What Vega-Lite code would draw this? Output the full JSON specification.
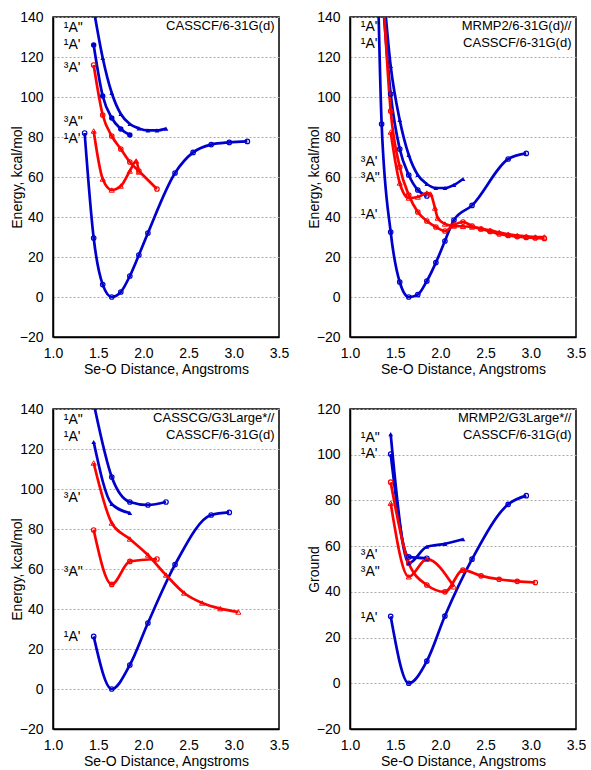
{
  "$schema": "https://vega.github.io/schema/vega-lite/v6.json",
  "background": "white",
  "padding": {"left": 9, "top": 9, "right": 5, "bottom": 5},
  "columns": 2,
  "spacing": {"row": 72, "column": 71},
  "bounds": "flush",
  "datasets": {
    "p1": [
      {"state": "S2", "x": 1.45, "y": 144}, {"state": "S2", "x": 1.55, "y": 119.5}, {"state": "S2", "x": 1.65, "y": 102}, {"state": "S2", "x": 1.75, "y": 91.5}, {"state": "S2", "x": 1.85, "y": 86.5}, {"state": "S2", "x": 1.95, "y": 84.3}, {"state": "S2", "x": 2.05, "y": 83.3}, {"state": "S2", "x": 2.15, "y": 83.3}, {"state": "S2", "x": 2.25, "y": 84.2},
      {"state": "S1", "x": 1.45, "y": 126}, {"state": "S1", "x": 1.55, "y": 100.5}, {"state": "S1", "x": 1.65, "y": 89.5}, {"state": "S1", "x": 1.75, "y": 84}, {"state": "S1", "x": 1.85, "y": 81},
      {"state": "S0", "x": 1.35, "y": 82}, {"state": "S0", "x": 1.45, "y": 29.5}, {"state": "S0", "x": 1.55, "y": 6.2}, {"state": "S0", "x": 1.65, "y": 0}, {"state": "S0", "x": 1.75, "y": 2.5}, {"state": "S0", "x": 1.85, "y": 10.5}, {"state": "S0", "x": 1.95, "y": 21}, {"state": "S0", "x": 2.05, "y": 32}, {"state": "S0", "x": 2.35, "y": 62}, {"state": "S0", "x": 2.55, "y": 72.3}, {"state": "S0", "x": 2.75, "y": 76.2}, {"state": "S0", "x": 2.95, "y": 77.3}, {"state": "S0", "x": 3.15, "y": 77.8},
      {"state": "T1", "x": 1.45, "y": 116}, {"state": "T1", "x": 1.55, "y": 91}, {"state": "T1", "x": 1.65, "y": 80.5}, {"state": "T1", "x": 1.75, "y": 74}, {"state": "T1", "x": 1.85, "y": 67.5}, {"state": "T1", "x": 1.95, "y": 63}, {"state": "T1", "x": 2.15, "y": 54},
      {"state": "T2", "x": 1.45, "y": 83}, {"state": "T2", "x": 1.55, "y": 59}, {"state": "T2", "x": 1.65, "y": 53.5}, {"state": "T2", "x": 1.75, "y": 55.5}, {"state": "T2", "x": 1.85, "y": 63}, {"state": "T2", "x": 1.92, "y": 68}, {"state": "T2", "x": 1.95, "y": 62.5}
    ],
    "p2": [
      {"state": "S0", "x": 1.3, "y": 175}, {"state": "S0", "x": 1.35, "y": 86.5}, {"state": "S0", "x": 1.45, "y": 32.5}, {"state": "S0", "x": 1.55, "y": 7.5}, {"state": "S0", "x": 1.65, "y": 0}, {"state": "S0", "x": 1.75, "y": 1.2}, {"state": "S0", "x": 1.85, "y": 8}, {"state": "S0", "x": 1.95, "y": 17.2}, {"state": "S0", "x": 2.05, "y": 28}, {"state": "S0", "x": 2.15, "y": 38.5}, {"state": "S0", "x": 2.35, "y": 45.8}, {"state": "S0", "x": 2.75, "y": 69}, {"state": "S0", "x": 2.95, "y": 71.8},
      {"state": "S1", "x": 1.35, "y": 156}, {"state": "S1", "x": 1.45, "y": 101.5}, {"state": "S1", "x": 1.55, "y": 74}, {"state": "S1", "x": 1.65, "y": 61}, {"state": "S1", "x": 1.75, "y": 53.5}, {"state": "S1", "x": 1.85, "y": 50.5},
      {"state": "S2", "x": 1.35, "y": 165}, {"state": "S2", "x": 1.45, "y": 115.5}, {"state": "S2", "x": 1.55, "y": 88.5}, {"state": "S2", "x": 1.65, "y": 71}, {"state": "S2", "x": 1.75, "y": 61}, {"state": "S2", "x": 1.85, "y": 56.5}, {"state": "S2", "x": 1.95, "y": 54.5}, {"state": "S2", "x": 2.05, "y": 54.5}, {"state": "S2", "x": 2.15, "y": 56}, {"state": "S2", "x": 2.25, "y": 59},
      {"state": "T1", "x": 1.35, "y": 165}, {"state": "T1", "x": 1.45, "y": 93}, {"state": "T1", "x": 1.55, "y": 65}, {"state": "T1", "x": 1.65, "y": 51}, {"state": "T1", "x": 1.75, "y": 42.5}, {"state": "T1", "x": 1.85, "y": 38}, {"state": "T1", "x": 1.95, "y": 35}, {"state": "T1", "x": 2.05, "y": 33}, {"state": "T1", "x": 2.15, "y": 36}, {"state": "T1", "x": 2.25, "y": 37.5}, {"state": "T1", "x": 2.35, "y": 35.5}, {"state": "T1", "x": 2.45, "y": 34}, {"state": "T1", "x": 2.55, "y": 32.8}, {"state": "T1", "x": 2.65, "y": 31.5}, {"state": "T1", "x": 2.75, "y": 30.8}, {"state": "T1", "x": 2.85, "y": 30.2}, {"state": "T1", "x": 2.95, "y": 29.8}, {"state": "T1", "x": 3.05, "y": 29.5}, {"state": "T1", "x": 3.15, "y": 29.3},
      {"state": "T2", "x": 1.45, "y": 82.5}, {"state": "T2", "x": 1.55, "y": 57}, {"state": "T2", "x": 1.65, "y": 49.5}, {"state": "T2", "x": 1.75, "y": 50}, {"state": "T2", "x": 1.85, "y": 52}, {"state": "T2", "x": 1.89, "y": 51.5}, {"state": "T2", "x": 1.94, "y": 44.5}, {"state": "T2", "x": 1.97, "y": 39.5}, {"state": "T2", "x": 2.05, "y": 36.5}, {"state": "T2", "x": 2.15, "y": 35.5}, {"state": "T2", "x": 2.25, "y": 35.3}, {"state": "T2", "x": 2.35, "y": 35}, {"state": "T2", "x": 2.45, "y": 34.2}, {"state": "T2", "x": 2.55, "y": 33.3}, {"state": "T2", "x": 2.65, "y": 32.3}, {"state": "T2", "x": 2.75, "y": 31.3}, {"state": "T2", "x": 2.85, "y": 30.7}, {"state": "T2", "x": 2.95, "y": 30.3}, {"state": "T2", "x": 3.05, "y": 30}, {"state": "T2", "x": 3.15, "y": 30}
    ],
    "p3": [
      {"state": "S2", "x": 1.45, "y": 143}, {"state": "S2", "x": 1.65, "y": 106}, {"state": "S2", "x": 1.85, "y": 93.5}, {"state": "S2", "x": 2.05, "y": 92}, {"state": "S2", "x": 2.25, "y": 93.5},
      {"state": "S1", "x": 1.45, "y": 123.5}, {"state": "S1", "x": 1.65, "y": 92.5}, {"state": "S1", "x": 1.85, "y": 88},
      {"state": "S0", "x": 1.45, "y": 26.3}, {"state": "S0", "x": 1.65, "y": 0}, {"state": "S0", "x": 1.85, "y": 12}, {"state": "S0", "x": 2.05, "y": 33}, {"state": "S0", "x": 2.35, "y": 62.2}, {"state": "S0", "x": 2.75, "y": 87}, {"state": "S0", "x": 2.95, "y": 88.3},
      {"state": "T1", "x": 1.45, "y": 113}, {"state": "T1", "x": 1.65, "y": 83}, {"state": "T1", "x": 1.85, "y": 75}, {"state": "T1", "x": 2.05, "y": 67}, {"state": "T1", "x": 2.25, "y": 57}, {"state": "T1", "x": 2.45, "y": 48}, {"state": "T1", "x": 2.65, "y": 43}, {"state": "T1", "x": 2.85, "y": 40.2}, {"state": "T1", "x": 3.05, "y": 38.5},
      {"state": "T2", "x": 1.45, "y": 79.5}, {"state": "T2", "x": 1.65, "y": 52.3}, {"state": "T2", "x": 1.85, "y": 63.8}, {"state": "T2", "x": 2.15, "y": 65}
    ],
    "p4": [
      {"state": "S2", "x": 1.45, "y": 109}, {"state": "S2", "x": 1.65, "y": 52.5}, {"state": "S2", "x": 1.85, "y": 59.7}, {"state": "S2", "x": 2.05, "y": 61}, {"state": "S2", "x": 2.25, "y": 63},
      {"state": "S1", "x": 1.45, "y": 100.3}, {"state": "S1", "x": 1.65, "y": 55.3}, {"state": "S1", "x": 1.85, "y": 54.7},
      {"state": "S0", "x": 1.45, "y": 29.3}, {"state": "S0", "x": 1.65, "y": 0}, {"state": "S0", "x": 1.85, "y": 9.7}, {"state": "S0", "x": 2.05, "y": 29.4}, {"state": "S0", "x": 2.35, "y": 54.3}, {"state": "S0", "x": 2.75, "y": 78.3}, {"state": "S0", "x": 2.95, "y": 82.1},
      {"state": "T1", "x": 1.45, "y": 88}, {"state": "T1", "x": 1.65, "y": 52.5}, {"state": "T1", "x": 1.85, "y": 43}, {"state": "T1", "x": 2.05, "y": 40}, {"state": "T1", "x": 2.25, "y": 49.5}, {"state": "T1", "x": 2.45, "y": 47}, {"state": "T1", "x": 2.65, "y": 45.5}, {"state": "T1", "x": 2.85, "y": 44.6}, {"state": "T1", "x": 3.05, "y": 44.1},
      {"state": "T2", "x": 1.45, "y": 78.8}, {"state": "T2", "x": 1.65, "y": 46.6}, {"state": "T2", "x": 1.85, "y": 54.3}, {"state": "T2", "x": 2.15, "y": 42.2}
    ],
    "l1": [
      {"label": "¹A\"", "x": 1.12, "y": 134.5}, {"label": "¹A'", "x": 1.12, "y": 126}, {"label": "³A'", "x": 1.12, "y": 114.7}, {"label": "³A\"", "x": 1.12, "y": 87.5}, {"label": "¹A'", "x": 1.12, "y": 79}
    ],
    "l2": [
      {"label": "¹A\"", "x": 1.12, "y": 135}, {"label": "¹A'", "x": 1.12, "y": 126.5}, {"label": "³A'", "x": 1.12, "y": 67.5}, {"label": "³A\"", "x": 1.12, "y": 59.5}, {"label": "¹A'", "x": 1.12, "y": 41}
    ],
    "l3": [
      {"label": "¹A\"", "x": 1.12, "y": 134.6}, {"label": "¹A'", "x": 1.12, "y": 126}, {"label": "³A'", "x": 1.12, "y": 95.4}, {"label": "³A\"", "x": 1.12, "y": 58.6}, {"label": "¹A'", "x": 1.12, "y": 26}
    ],
    "l4": [
      {"label": "¹A\"", "x": 1.12, "y": 107.3}, {"label": "¹A'", "x": 1.12, "y": 100.2}, {"label": "³A'", "x": 1.12, "y": 56}, {"label": "³A\"", "x": 1.12, "y": 48.8}, {"label": "¹A'", "x": 1.12, "y": 28.6}
    ],
    "t1": [{"label": "CASSCF/6-31G(d)", "x": 3.45, "y": 140}],
    "t2": [{"label": "MRMP2/6-31G(d)//\nCASSCF/6-31G(d)", "x": 3.45, "y": 140}],
    "t3": [{"label": "CASSCG/G3Large*//\nCASSCF/6-31G(d)", "x": 3.45, "y": 140}],
    "t4": [{"label": "MRMP2/G3Large*//\nCASSCF/6-31G(d)", "x": 3.45, "y": 120}]
  },
  "concat": [
    {
      "width": 226, "height": 320,
      "data": {"name": "p1"},
      "encoding": {
        "x": {"field": "x", "type": "quantitative", "scale": {"domain": [1, 3.5], "nice": false, "zero": false}, "axis": {"values": [1, 1.5, 2, 2.5, 3, 3.5], "format": ".1f", "title": "Se-O Distance, Angstroms"}},
        "y": {"field": "y", "type": "quantitative", "scale": {"domain": [-20, 140], "nice": false}, "axis": {"values": [-20, 0, 20, 40, 60, 80, 100, 120, 140], "title": "Energy, kcal/mol"}}
      },
      "layer": [
        {"mark": {"type": "line", "interpolate": "monotone", "clip": true, "strokeWidth": 2.7}, "encoding": {"color": {"field": "state", "type": "nominal", "scale": {"domain": ["S0", "S1", "S2", "T1", "T2"], "range": ["#0000CC", "#0000CC", "#0000CC", "#FF0000", "#FF0000"]}, "legend": null}, "detail": {"field": "state"}}},
        {"transform": [{"filter": {"field": "state", "oneOf": ["S0", "T1"]}}], "mark": {"type": "point", "shape": "circle", "filled": false, "size": 20, "strokeWidth": 1.2, "clip": true, "opacity": 1}, "encoding": {"color": {"field": "state", "type": "nominal", "legend": null}}},
        {"transform": [{"filter": {"field": "state", "oneOf": ["S1"]}}], "mark": {"type": "point", "shape": "circle", "filled": true, "size": 30, "clip": true, "opacity": 1}, "encoding": {"color": {"field": "state", "type": "nominal", "legend": null}}},
        {"transform": [{"filter": {"field": "state", "oneOf": ["S2"]}}], "mark": {"type": "point", "shape": "triangle-up", "filled": true, "size": 22, "clip": true, "opacity": 1}, "encoding": {"color": {"field": "state", "type": "nominal", "legend": null}}},
        {"transform": [{"filter": {"field": "state", "oneOf": ["T2"]}}], "mark": {"type": "point", "shape": "triangle-up", "filled": false, "size": 26, "strokeWidth": 1, "clip": true, "opacity": 1}, "encoding": {"color": {"field": "state", "type": "nominal", "legend": null}}},
        {"data": {"name": "l1"}, "mark": {"type": "text", "align": "left", "baseline": "middle", "fontSize": 14}, "encoding": {"text": {"field": "label"}}},
        {"data": {"name": "t1"}, "mark": {"type": "text", "align": "right", "baseline": "top", "fontSize": 13, "lineHeight": 17, "lineBreak": "\n", "dy": 3}, "encoding": {"text": {"field": "label"}}}
      ]
    },
    {
      "width": 226, "height": 320,
      "data": {"name": "p2"},
      "encoding": {
        "x": {"field": "x", "type": "quantitative", "scale": {"domain": [1, 3.5], "nice": false, "zero": false}, "axis": {"values": [1, 1.5, 2, 2.5, 3, 3.5], "format": ".1f", "title": "Se-O Distance, Angstroms"}},
        "y": {"field": "y", "type": "quantitative", "scale": {"domain": [-20, 140], "nice": false}, "axis": {"values": [-20, 0, 20, 40, 60, 80, 100, 120, 140], "title": "Energy, kcal/mol"}}
      },
      "layer": [
        {"mark": {"type": "line", "interpolate": "monotone", "clip": true, "strokeWidth": 2.7}, "encoding": {"color": {"field": "state", "type": "nominal", "scale": {"domain": ["S0", "S1", "S2", "T1", "T2"], "range": ["#0000CC", "#0000CC", "#0000CC", "#FF0000", "#FF0000"]}, "legend": null}, "detail": {"field": "state"}}},
        {"transform": [{"filter": {"field": "state", "oneOf": ["S0", "S1", "T1"]}}], "mark": {"type": "point", "shape": "circle", "filled": false, "size": 20, "strokeWidth": 1.2, "clip": true, "opacity": 1}, "encoding": {"color": {"field": "state", "type": "nominal", "legend": null}}},
        {"transform": [{"filter": {"field": "state", "oneOf": ["S2"]}}], "mark": {"type": "point", "shape": "triangle-up", "filled": true, "size": 22, "clip": true, "opacity": 1}, "encoding": {"color": {"field": "state", "type": "nominal", "legend": null}}},
        {"transform": [{"filter": {"field": "state", "oneOf": ["T2"]}}], "mark": {"type": "point", "shape": "triangle-up", "filled": false, "size": 26, "strokeWidth": 1, "clip": true, "opacity": 1}, "encoding": {"color": {"field": "state", "type": "nominal", "legend": null}}},
        {"data": {"name": "l2"}, "mark": {"type": "text", "align": "left", "baseline": "middle", "fontSize": 14}, "encoding": {"text": {"field": "label"}}},
        {"data": {"name": "t2"}, "mark": {"type": "text", "align": "right", "baseline": "top", "fontSize": 13, "lineHeight": 17, "lineBreak": "\n", "dy": 3}, "encoding": {"text": {"field": "label"}}}
      ]
    },
    {
      "width": 226, "height": 320,
      "data": {"name": "p3"},
      "encoding": {
        "x": {"field": "x", "type": "quantitative", "scale": {"domain": [1, 3.5], "nice": false, "zero": false}, "axis": {"values": [1, 1.5, 2, 2.5, 3, 3.5], "format": ".1f", "title": "Se-O Distance, Angstroms"}},
        "y": {"field": "y", "type": "quantitative", "scale": {"domain": [-20, 140], "nice": false}, "axis": {"values": [-20, 0, 20, 40, 60, 80, 100, 120, 140], "title": "Energy, kcal/mol"}}
      },
      "layer": [
        {"mark": {"type": "line", "interpolate": "monotone", "clip": true, "strokeWidth": 2.7}, "encoding": {"color": {"field": "state", "type": "nominal", "scale": {"domain": ["S0", "S1", "S2", "T1", "T2"], "range": ["#0000CC", "#0000CC", "#0000CC", "#FF0000", "#FF0000"]}, "legend": null}, "detail": {"field": "state"}}},
        {"transform": [{"filter": {"field": "state", "oneOf": ["S0", "S2", "T2"]}}], "mark": {"type": "point", "shape": "circle", "filled": false, "size": 20, "strokeWidth": 1.2, "clip": true, "opacity": 1}, "encoding": {"color": {"field": "state", "type": "nominal", "legend": null}}},
        {"transform": [{"filter": {"field": "state", "oneOf": ["S1"]}}], "mark": {"type": "point", "shape": "triangle-up", "filled": true, "size": 22, "clip": true, "opacity": 1}, "encoding": {"color": {"field": "state", "type": "nominal", "legend": null}}},
        {"transform": [{"filter": {"field": "state", "oneOf": ["T1"]}}], "mark": {"type": "point", "shape": "triangle-up", "filled": false, "size": 26, "strokeWidth": 1, "clip": true, "opacity": 1}, "encoding": {"color": {"field": "state", "type": "nominal", "legend": null}}},
        {"data": {"name": "l3"}, "mark": {"type": "text", "align": "left", "baseline": "middle", "fontSize": 14}, "encoding": {"text": {"field": "label"}}},
        {"data": {"name": "t3"}, "mark": {"type": "text", "align": "right", "baseline": "top", "fontSize": 13, "lineHeight": 17, "lineBreak": "\n", "dy": 3}, "encoding": {"text": {"field": "label"}}}
      ]
    },
    {
      "width": 226, "height": 320,
      "data": {"name": "p4"},
      "encoding": {
        "x": {"field": "x", "type": "quantitative", "scale": {"domain": [1, 3.5], "nice": false, "zero": false}, "axis": {"values": [1, 1.5, 2, 2.5, 3, 3.5], "format": ".1f", "title": "Se-O Distance, Angstroms"}},
        "y": {"field": "y", "type": "quantitative", "scale": {"domain": [-20, 120], "nice": false}, "axis": {"values": [-20, 0, 20, 40, 60, 80, 100, 120], "title": "Ground"}}
      },
      "layer": [
        {"mark": {"type": "line", "interpolate": "monotone", "clip": true, "strokeWidth": 2.7}, "encoding": {"color": {"field": "state", "type": "nominal", "scale": {"domain": ["S0", "S1", "S2", "T1", "T2"], "range": ["#0000CC", "#0000CC", "#0000CC", "#FF0000", "#FF0000"]}, "legend": null}, "detail": {"field": "state"}}},
        {"transform": [{"filter": {"field": "state", "oneOf": ["S0", "S1", "T1"]}}], "mark": {"type": "point", "shape": "circle", "filled": false, "size": 20, "strokeWidth": 1.2, "clip": true, "opacity": 1}, "encoding": {"color": {"field": "state", "type": "nominal", "legend": null}}},
        {"transform": [{"filter": {"field": "state", "oneOf": ["S2"]}}], "mark": {"type": "point", "shape": "triangle-up", "filled": true, "size": 22, "clip": true, "opacity": 1}, "encoding": {"color": {"field": "state", "type": "nominal", "legend": null}}},
        {"transform": [{"filter": {"field": "state", "oneOf": ["T2"]}}], "mark": {"type": "point", "shape": "triangle-up", "filled": false, "size": 26, "strokeWidth": 1, "clip": true, "opacity": 1}, "encoding": {"color": {"field": "state", "type": "nominal", "legend": null}}},
        {"data": {"name": "l4"}, "mark": {"type": "text", "align": "left", "baseline": "middle", "fontSize": 14}, "encoding": {"text": {"field": "label"}}},
        {"data": {"name": "t4"}, "mark": {"type": "text", "align": "right", "baseline": "top", "fontSize": 13, "lineHeight": 17, "lineBreak": "\n", "dy": 3}, "encoding": {"text": {"field": "label"}}}
      ]
    }
  ],
  "config": {
    "font": "Liberation Sans",
    "view": {"stroke": "#000", "strokeWidth": 1.5},
    "text": {"font": "Liberation Sans", "color": "#000"},
    "axis": {
      "labelFont": "Liberation Sans", "labelFontSize": 14, "labelColor": "#000",
      "titleFont": "Liberation Sans", "titleFontSize": 14, "titleFontWeight": "normal", "titleColor": "#000",
      "domainColor": "#000", "domainWidth": 1.5, "ticks": false, "labelPadding": 9, "labelFlush": false
    },
    "axisX": {"grid": false, "titlePadding": 2, "labelFlush": false},
    "axisY": {"grid": true, "gridColor": "#aaaaaa", "gridDash": [2, 2], "gridWidth": 1, "titlePadding": -5, "labelPadding": 10, "labelFlush": false}
  }
}
